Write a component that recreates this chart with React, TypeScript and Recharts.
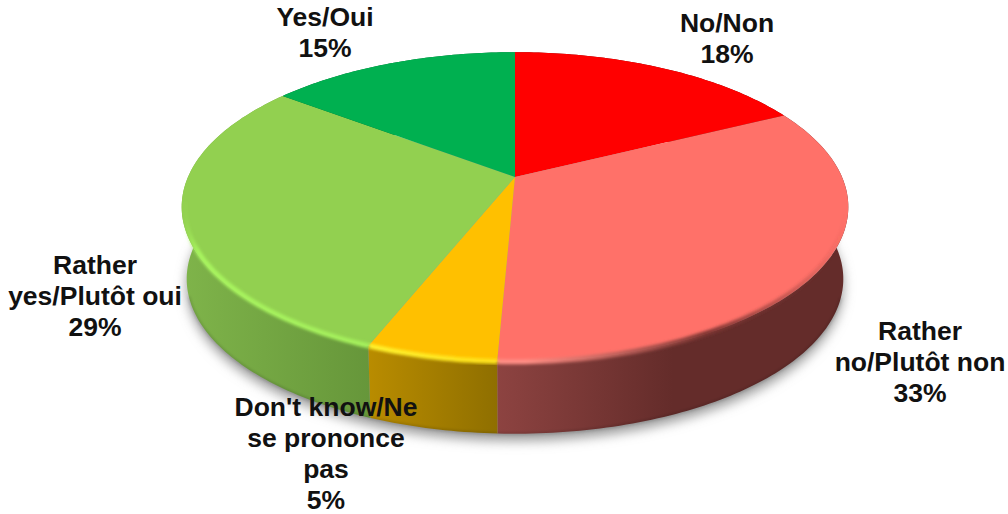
import React from "react";
import { Pie, PieChart } from "recharts";

const categories = [
  ["No/Non"],
  ["Rather", "no/Plutôt non"],
  ["Don't know/Ne", "se prononce", "pas"],
  ["Rather", "yes/Plutôt oui"],
  ["Yes/Oui"],
];
const percentLabels = ["18%", "33%", "5%", "29%", "15%"];
// slightly finer than the printed percentages, read from the slice edges
const values = [17.6, 33.1, 5.3, 29.4, 14.6];
const faceColors = ["#FF0000", "#FF7169", "#FFC000", "#92D050", "#00B050"];
const wallFrom = ["#7a0000", "#8d4341", "#b98c00", "#7fb44a", "#006a30"];
const wallTo = ["#7a0000", "#642c2a", "#8f6f00", "#66963a", "#006a30"];
const rimFrom = ["#ff0000", "#ff8d84", "#fff02c", "#a8f55e", "#00b050"];
const rimTo = ["#ff0000", "#7d3532", "#ffe21a", "#a4f05c", "#00b050"];
const rimFadeIn = [false, false, false, true, false];
const rimFadeOut = [false, true, false, false, false];

const labelCentres = [
  { x: 727, y: 23 },
  { x: 920, y: 331 },
  { x: 326, y: 407 },
  { x: 95, y: 265 },
  { x: 325, y: 17 },
];

const pieData = values.map((value, i) => ({ name: categories[i].join(" "), value, fill: faceColors[i], i }));
const shadowData = [{ name: "shadow", value: 100, fill: "#9a9a9a", i: 0 }];

const TILT = 0.1935;
const SQUASH = 149 / 327;

// flat circle -> tilted disc
const project = (cx: number, cy: number, r: number, deg: number) => {
  const rad = (deg * Math.PI) / 180;
  const u = Math.cos(rad);
  const v = -Math.sin(rad);
  const d = 1 - TILT * v;
  return { x: cx + (r * u) / d, y: cy + (r * SQUASH * v) / d, v };
};

// lower edge of the disc, a bit narrower because it sits further away
const lower = (cx: number, cy: number, p: { x: number; y: number }) => ({
  x: cx + (p.x - cx) * 0.985,
  y: p.y + 72,
});

const arcPoints = (props: any) => {
  const { cx, cy, outerRadius, startAngle, endAngle } = props;
  const steps = Math.max(2, Math.ceil(Math.abs(endAngle - startAngle)));
  const pts = [];
  for (let s = 0; s <= steps; s++) {
    pts.push(project(cx, cy, outerRadius, startAngle + ((endAngle - startAngle) * s) / steps));
  }
  return pts;
};

const toPath = (pts: { x: number; y: number }[]) =>
  pts.map((p, n) => `${n === 0 ? "M" : "L"}${p.x.toFixed(2)},${p.y.toFixed(2)}`).join(" ");

const ShadowShape = (props: any) => {
  const pts = arcPoints(props).map((p) => lower(props.cx, props.cy, p));
  return <path d={toPath(pts) + " Z"} transform="translate(0,7)" fill={props.fill} filter="url(#softShadow)" />;
};

const WallShape = (props: any) => {
  const { cx, cy, payload } = props;
  const top = arcPoints(props);
  const bottom = top.map((p) => lower(cx, cy, p));
  return (
    <g>
      <path d={toPath([...top, ...bottom.slice().reverse()]) + " Z"} fill={`url(#wall${payload.i})`} />
      <path
        d={toPath(bottom.filter((_, n) => top[n].v > 0.3))}
        fill="none"
        stroke="#000"
        strokeOpacity={0.2}
        strokeWidth={2}
        filter="url(#softRim)"
      />
    </g>
  );
};

const FaceShape = (props: any) => {
  const { cx, cy, fill } = props;
  const pts = arcPoints(props);
  return <path d={`M${cx},${cy} ` + toPath(pts).replace("M", "L") + " Z"} fill={fill} />;
};

const RimShape = (props: any) => {
  const { cx, payload } = props;
  const front = arcPoints(props).filter((p) => p.v > 0.15);
  if (front.length < 2) return <g />;
  return (
    <path
      d={toPath(front.map((p) => ({ x: cx + (p.x - cx) * 0.994, y: p.y })))}
      fill="none"
      stroke={`url(#rim${payload.i})`}
      strokeWidth={5}
      filter="url(#softRim)"
    />
  );
};

const renderLabel = (props: any) => {
  const i = props.index;
  const c = labelCentres[i];
  const lines = [...categories[i], percentLabels[i]];
  return (
    <text
      key={i}
      x={c.x}
      y={c.y}
      textAnchor="middle"
      fontFamily="'Liberation Sans', Arial, sans-serif"
      fontWeight="bold"
      fontSize={26.5}
      fill="#111111"
    >
      {lines.map((line, n) => (
        <tspan key={n} x={c.x} y={c.y + n * 31} dominantBaseline="central">
          {line}
        </tspan>
      ))}
    </text>
  );
};

const pieProps = {
  dataKey: "value",
  nameKey: "name",
  cx: 515,
  cy: 177,
  outerRadius: 327,
  startAngle: 90,
  endAngle: -270,
  stroke: "none",
  isAnimationActive: false,
  labelLine: false,
};

export default function App() {
  return (
    <div style={{ position: "absolute", left: 0, top: 0, width: 1008, height: 514, background: "#fff" }}>
      <PieChart width={1008} height={514} margin={{ top: 0, right: 0, bottom: 0, left: 0 }}>
        <defs>
          <filter id="softShadow" x="-10%" y="-10%" width="120%" height="120%">
            <feGaussianBlur stdDeviation="6" />
          </filter>
          <filter id="softRim" x="-5%" y="-20%" width="110%" height="140%">
            <feGaussianBlur stdDeviation="1.4" />
          </filter>
          {faceColors.map((_, i) => (
            <linearGradient key={`w${i}`} id={`wall${i}`} x1="0" y1="0" x2="1" y2="0">
              <stop offset="0%" stopColor={wallFrom[i]} />
              <stop offset={i === 1 ? "50%" : "100%"} stopColor={wallTo[i]} />
            </linearGradient>
          ))}
          {faceColors.map((_, i) => (
            <linearGradient key={`r${i}`} id={`rim${i}`} x1="0" y1="0" x2="1" y2="0">
              <stop offset="0%" stopColor={rimFrom[i]} stopOpacity={rimFadeIn[i] ? 0 : 1} />
              <stop offset="8%" stopColor={rimFrom[i]} />
              <stop offset={i === 1 ? "60%" : "92%"} stopColor={rimTo[i]} />
              <stop offset="100%" stopColor={rimTo[i]} stopOpacity={rimFadeOut[i] ? 0 : 1} />
            </linearGradient>
          ))}
        </defs>
        <Pie {...pieProps} data={shadowData} shape={ShadowShape} />
        <Pie {...pieProps} data={pieData} shape={WallShape} />
        <Pie {...pieProps} data={pieData} shape={FaceShape} />
        <Pie {...pieProps} data={pieData} shape={RimShape} label={renderLabel} />
      </PieChart>
    </div>
  );
}
